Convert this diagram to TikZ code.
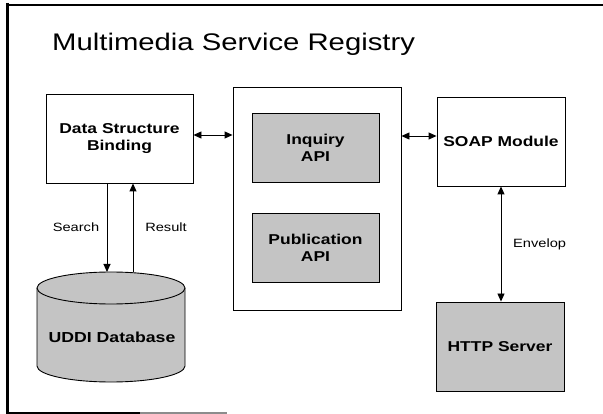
\documentclass[tikz,border=0pt]{standalone}
\usepackage{fontspec}
\setmainfont[FakeStretch=1.22]{Liberation Sans}
\usetikzlibrary{arrows.meta}
\begin{document}
\begin{tikzpicture}[x=1pt,y=-1pt,
  box/.style={draw=black,line width=0.9pt,fill=white,inner sep=0pt,align=center,
     font=\bfseries\fontsize{14.3}{17}\selectfont},
  shaded/.style={box,fill=black!23},
  lbl/.style={font=\fontsize{12}{14}\selectfont,inner sep=0pt},
  tipA/.tip={Triangle[length=8pt,width=7pt]},
  conn/.style={line width=0.9pt,-tipA},
  dbl/.style={line width=0.9pt,tipA-tipA}]
\useasboundingbox (0,0) rectangle (603,414);
% frame
\draw[line width=3pt] (7,3) -- (7,414);
\draw[line width=2pt] (6,5) -- (603,5);
\draw[line width=2pt] (6,413) -- (140,413);
\draw[line width=2pt,black!45] (140,413) -- (227,413);
% title
\node[anchor=base west,inner sep=0pt,font=\fontsize{24}{28}\selectfont] (title) at (52,51) {Multimedia Service Registry};
% boxes
\node[box,minimum width=147pt,minimum height=89pt] (data) at (119.5,138.5) {Data Structure\\Binding};
\node[box,minimum width=168pt,minimum height=223pt] (mid) at (317,198.5) {};
\node[shaded,minimum width=127pt,minimum height=69pt] (inq) at (315.5,147.5) {Inquiry\\API};
\node[shaded,minimum width=127pt,minimum height=69pt] (pub) at (315.5,247.5) {Publication\\API};
\node[box,minimum width=128pt,minimum height=89pt] (soap) at (501,141.5) {SOAP Module};
\node[shaded,minimum width=128pt,minimum height=89pt] (http) at (500,346.5) {HTTP Server};
% cylinder
\filldraw[line width=0.9pt,fill=black!23] (37,288) -- (37,366)
  arc[start angle=180,end angle=0,x radius=74,y radius=16] -- (185,288)
  arc[start angle=0,end angle=-180,x radius=74,y radius=16] -- cycle;
\draw[line width=0.9pt] (37,288) arc[start angle=180,end angle=0,x radius=74,y radius=16];
\coordinate (dbtop) at (111,272);
\node[inner sep=0pt,font=\bfseries\fontsize{14.5}{17}\selectfont] (db) at (112,337) {UDDI Database};
% connectors
\draw[dbl] ([yshift=3.5pt]data.east) -- ([yshift=3.5pt]data.east -| mid.west);
\coordinate (a1) at ([yshift=5.5pt]soap.west);
\draw[dbl] (a1 -| mid.east) -- (a1);
\draw[dbl] (soap.south) -- (soap.south |- http.north);
\draw[conn] ([xshift=-12.5pt]data.south) -- ([xshift=-12.5pt]data.south |- dbtop);
\draw[conn] ([xshift=13.5pt]data.south |- dbtop) -- ([xshift=13.5pt]data.south);
% labels
\node[lbl] (ls) at (76,227) {Search};
\node[lbl] (lr) at (166,227) {Result};
\node[lbl,anchor=west] (le) at (513,244) {Envelop};
\end{tikzpicture}
\end{document}
